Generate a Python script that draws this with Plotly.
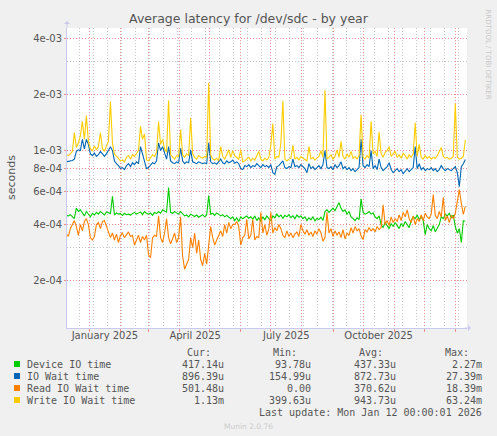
import plotly.graph_objects as go
import pandas as pd

# ---- data (values in microseconds, one sample every 2 days from 2024-12-09) ----
start_date = "2024-12-09"
step_days = 2

device_io = [
    448, 445, 452, 440, 430, 490, 470, 480, 460, 445,
    470, 455, 440, 460, 450, 465, 455, 470, 460, 450,
    468, 462, 458, 568, 450, 462, 455, 458, 448, 460,
    452, 455, 450, 458, 465, 455, 460, 468, 452, 470,
    460, 455, 462, 448, 465, 458, 470, 460, 480, 475,
    466, 632, 465, 460, 470, 462, 455, 470, 455, 445,
    450, 440, 455, 448, 442, 450, 438, 445, 452, 440,
    450, 573, 455, 460, 448, 462, 455, 445, 452, 440,
    448, 438, 430, 440, 420, 435, 415, 440, 430, 438,
    445, 432, 440, 428, 445, 420, 435, 415, 440, 425,
    445, 430, 420, 445, 435, 455, 440, 450, 432, 448,
    440, 452, 435, 445, 430, 450, 438, 445, 430, 440,
    420, 435, 425, 440, 418, 432, 425, 438, 420, 470,
    480, 465, 478, 490, 475, 500, 525, 490, 470, 480,
    455, 470, 440, 430, 420, 435, 425, 550, 465, 455,
    460, 470, 455, 462, 440, 430, 445, 400, 385, 410,
    395, 380, 405, 390, 410, 395, 380, 405, 390, 415,
    400, 385, 420, 440, 430, 450, 425, 440, 420, 353,
    400, 380, 370, 395, 365, 385, 400, 440, 430, 455,
    445, 460, 435, 450, 390, 360, 380, 320, 420, 417,
]

io_wait = [
    870, 875, 880, 885, 900, 990, 1010, 1000, 1150, 1020,
    1150, 1080, 960, 940, 970, 930, 950, 990, 960, 930,
    960, 1010, 1050, 1000, 880, 850, 830, 800, 810, 790,
    830, 850, 820, 860, 840, 870, 850, 1050, 950, 870,
    800, 810, 840, 860, 850, 880, 1100, 1000, 1050, 960,
    900, 1050, 880, 860, 850, 870, 860, 1030, 880, 850,
    870, 860, 1010, 870, 860, 850, 870, 860, 850, 860,
    850, 1100, 870, 850, 860, 845, 870, 900, 860, 850,
    880, 860, 870, 890, 855, 870, 850, 800, 790, 830,
    820, 840, 810, 830, 820, 850, 830, 810, 840, 820,
    830, 810, 840, 760, 745, 820, 830, 850, 880, 810,
    800, 820, 810, 900, 820, 830, 810, 840, 820, 800,
    760, 850, 800, 820, 790, 810, 830, 800, 840, 1000,
    810, 800, 820, 790, 840, 810, 830, 870, 800, 820,
    790, 810, 780, 800, 770, 790, 810, 1150, 830, 810,
    840, 820, 1000, 800, 830, 790, 900, 810, 780, 800,
    820, 860, 790, 760, 780, 800, 770, 790, 750, 780,
    800, 770, 790, 810, 1050, 800, 850, 790, 810, 780,
    800, 790, 810, 780, 800, 770, 790, 830, 800, 780,
    800, 790, 780, 800, 820, 760, 640, 820, 850, 896,
]

read_io_wait = [
    355, 345, 380, 400, 420, 390, 350, 400, 370, 415,
    430, 400, 340, 330, 345, 400, 410, 380, 415, 420,
    390, 370, 340, 360, 330, 355, 320, 350, 360, 340,
    355, 365, 345, 350, 310, 330, 350, 320, 345, 330,
    350, 275, 265, 340, 350, 345, 445, 340, 320, 360,
    430, 340, 315, 335, 360, 320, 340, 440, 270, 230,
    245, 260, 340, 300, 360, 280, 330, 260, 240, 280,
    245, 300, 390, 340, 310, 330, 350, 370, 345, 400,
    360, 410, 380, 400, 400, 415, 390, 310, 340, 350,
    426, 335, 350, 426, 330, 345, 340, 465, 360, 400,
    350, 380, 465, 360, 385, 370, 400, 380, 350, 340,
    370, 345, 360, 340, 355, 365, 345, 400, 370, 355,
    375, 350, 365, 345, 370, 355, 380, 360, 325, 340,
    465, 360, 380, 345, 370, 350, 365, 340, 375, 335,
    360, 350, 385, 360, 390, 370, 380, 348, 332, 375,
    365, 385, 370, 380, 365, 390, 375, 385, 510, 400,
    420, 395, 440, 410, 430, 415, 450, 420, 465, 440,
    480, 430, 410, 445, 400, 430, 415, 450, 420, 460,
    440, 430, 455, 580, 450, 430, 470, 440, 560, 420,
    445, 410, 450, 430, 460, 540, 617, 520, 453, 501,
]

write_io_wait = [
    950, 940, 960, 990, 1250, 1040, 1100, 1200, 1437, 1150,
    1542, 1120, 1020, 1000, 1060, 1010, 1050, 1250, 1030, 990,
    1060, 1122, 1840, 1100, 960, 930, 900, 880, 890, 870,
    920, 940, 900, 950, 930, 970, 1000, 1350, 1150, 1230,
    890, 880, 920, 950, 930, 980, 1437, 1080, 1150, 1020,
    980, 1860, 950, 920, 900, 940, 930, 1297, 950, 920,
    960, 940, 1500, 960, 920, 900, 940, 920, 910, 930,
    920, 2311, 950, 900, 890, 910, 880, 1050, 930, 900,
    960, 1010, 920, 1000, 940, 920, 900, 1012, 870, 880,
    900, 920, 880, 910, 890, 940, 990, 900, 880, 910,
    890, 920, 1068, 1397, 900, 930, 920, 1100, 1855, 900,
    880, 900, 910, 1068, 900, 920, 890, 930, 910, 900,
    880, 1050, 900, 920, 890, 910, 930, 1000, 920, 2110,
    900, 920, 950, 900, 930, 1010, 920, 1122, 930, 900,
    960, 920, 990, 910, 930, 900, 940, 1560, 920, 900,
    940, 910, 1437, 960, 990, 930, 1260, 960, 920, 980,
    1000, 1050, 930, 960, 990, 920, 950, 910, 970, 940,
    900, 950, 920, 960, 1410, 930, 1080, 920, 900, 940,
    910, 930, 900, 920, 910, 940, 1000, 1040, 930, 910,
    920, 900, 910, 930, 1790, 920, 900, 910, 930, 1140,
]

series_names = ["Device IO time", "IO Wait time", "Read IO Wait time", "Write IO Wait time"]
series_colors = ["#00CC00", "#0066B3", "#FF8000", "#FFCC00"]
cur_vals = ["417.14u", "896.39u", "501.48u", "1.13m"]
min_vals = ["93.78u", "154.99u", "0.00", "399.63u"]
avg_vals = ["437.33u", "872.73u", "370.62u", "943.73u"]
max_vals = ["2.27m", "27.39m", "18.39m", "63.24m"]

y_tick_vals = [2e-4, 4e-4, 6e-4, 8e-4, 1e-3, 2e-3, 4e-3]
y_tick_text = ["2e-04", "4e-04", "6e-04", "8e-04", "1e-03", "2e-03", "4e-03"]
y_minor_vals = [3e-4, 5e-4, 7e-4, 3e-3]

x_label_dates = ["2025-01-16 12:00", "2025-04-16 12:00", "2025-07-16 12:00", "2025-10-16 12:00"]
x_label_text = ["January 2025", "April 2025", "July 2025", "October 2025"]
month_starts = pd.date_range("2025-01-01", "2026-01-01", freq="MS")
biweekly = pd.date_range("2024-12-22", "2026-01-12", freq="14D")

x_range = ["2024-12-09 16:00", "2026-01-12 16:00"]
y_range = [-3.955, -2.340]

title_text = "Average latency for /dev/sdc - by year"
last_update = "Last update: Mon Jan 12 00:00:01 2026"
munin_ver = "Munin 2.0.76"
side_text = "RRDTOOL / TOBI OETIKER"

# ---- figure ----
all_series = [device_io, io_wait, read_io_wait, write_io_wait]
n = len(device_io)
assert all(len(s) == n for s in all_series), [len(s) for s in all_series]
dates = pd.date_range(start_date, periods=n, freq=f"{step_days}D")

W, H = 497, 436
L, R, T, B = 67, 30, 28, 108
PW, PH = W - L - R, H - T - B

def px_x(px):
    return (px - L) / PW

def px_y(py):
    return (H - B - py) / PH

fig = go.Figure()
for s, name, col in zip(all_series, series_names, series_colors):
    fig.add_trace(go.Scatter(
        x=dates, y=[v * 1e-6 for v in s], mode="lines", name=name,
        line=dict(color=col, width=1.1), hoverinfo="skip", showlegend=False,
    ))
# invisible helper trace so the label axis exists
fig.add_trace(go.Scatter(
    x=dates[:1], y=[device_io[0] * 1e-6], xaxis="x2", mode="lines",
    line=dict(width=0), hoverinfo="skip", showlegend=False,
))

major_grid = "rgba(235,110,110,0.75)"
minor_grid = "rgba(160,160,160,0.6)"
axis_line = "#CACAEE"
txt = "#555555"
sans = "DejaVu Sans"
mono = "DejaVu Sans Mono"

fig.update_layout(
    width=W, height=H, autosize=False,
    margin=dict(l=L, r=R, t=T, b=B, pad=0),
    paper_bgcolor="#F0F0F0", plot_bgcolor="#FFFFFF",
    title=dict(text=title_text, x=0.5, xref="container", xanchor="center",
               y=1 - 19 / H, yref="container", yanchor="middle",
               font=dict(family=sans, size=12.5, color=txt)),
    xaxis=dict(
        type="date", range=x_range, tickmode="array", tickvals=month_starts,
        showticklabels=False, ticks="outside", ticklen=3, tickcolor=major_grid,
        showgrid=True, gridcolor=major_grid, griddash="1px,2px", gridwidth=1,
        minor=dict(tickmode="array", tickvals=biweekly, showgrid=True,
                   gridcolor=minor_grid, griddash="1px,2px", gridwidth=1, ticks=""),
        showline=True, linecolor=axis_line, linewidth=1, zeroline=False, fixedrange=True,
    ),
    xaxis2=dict(
        type="date", range=x_range, overlaying="x", anchor="y", side="bottom",
        tickmode="array", tickvals=x_label_dates, ticktext=x_label_text,
        showgrid=False, ticks="", showline=False, zeroline=False,
        tickfont=dict(family=sans, size=10, color=txt), fixedrange=True,
    ),
    yaxis=dict(
        type="log", range=y_range, tickmode="array", tickvals=y_tick_vals, ticktext=y_tick_text,
        tickfont=dict(family=sans, size=10, color=txt), ticks="outside", ticklen=2,
        tickcolor=major_grid,
        showgrid=True, gridcolor=major_grid, griddash="1px,2px", gridwidth=1,
        minor=dict(tickmode="array", tickvals=y_minor_vals, showgrid=True,
                   gridcolor=minor_grid, griddash="1px,2px", gridwidth=1, ticks=""),
        showline=True, linecolor=axis_line, linewidth=1, zeroline=False, fixedrange=True,
    ),
)

ann = []
ann.append(dict(text="seconds", x=px_x(11), y=px_y(177), xref="paper", yref="paper",
                textangle=-90, showarrow=False, xanchor="center", yanchor="middle",
                font=dict(family=sans, size=11, color=txt)))
ann.append(dict(text=side_text, x=px_x(487.5), y=px_y(54), xref="paper", yref="paper",
                textangle=90, showarrow=False, xanchor="center", yanchor="middle",
                font=dict(family=sans, size=7, color="#C8C8C8")))
# axis arrows
ann.append(dict(text="", x=px_x(471), y=0, xref="paper", yref="paper", showarrow=True,
                ax=-8, ay=0, arrowhead=1, arrowsize=1, arrowwidth=1, arrowcolor=axis_line))
ann.append(dict(text="", x=0, y=px_y(21), xref="paper", yref="paper", showarrow=True,
                ax=0, ay=8, arrowhead=1, arrowsize=1, arrowwidth=1, arrowcolor=axis_line))

mfont = dict(family=mono, size=10, color=txt)
for label, xr in zip(["Cur:", "Min:", "Avg:", "Max:"], [213, 299, 385, 471]):
    ann.append(dict(text=label, x=px_x(xr), y=px_y(352), xref="paper", yref="paper",
                    showarrow=False, xanchor="right", yanchor="middle", font=mfont))
shapes = []
for k, (name, col) in enumerate(zip(series_names, series_colors)):
    yc = 364 + 12 * k
    ann.append(dict(text=name, x=px_x(25), y=px_y(yc), xref="paper", yref="paper",
                    showarrow=False, xanchor="left", yanchor="middle", font=mfont))
    for vals, xr in zip([cur_vals, min_vals, avg_vals, max_vals], [226, 313, 398, 484]):
        ann.append(dict(text=vals[k], x=px_x(xr), y=px_y(yc), xref="paper", yref="paper",
                        showarrow=False, xanchor="right", yanchor="middle", font=mfont))
    shapes.append(dict(type="rect", xref="paper", yref="paper",
                       x0=px_x(14), x1=px_x(20), y0=px_y(yc - 3), y1=px_y(yc + 3),
                       fillcolor=col, line=dict(width=0)))
ann.append(dict(text=last_update, x=px_x(484), y=px_y(412), xref="paper", yref="paper",
                showarrow=False, xanchor="right", yanchor="middle", font=mfont))
ann.append(dict(text=munin_ver, x=px_x(248), y=px_y(426), xref="paper", yref="paper",
                showarrow=False, xanchor="center", yanchor="middle",
                font=dict(family=sans, size=7.5, color="#CCCCCC")))

fig.update_layout(annotations=ann, shapes=shapes)
fig.write_html("out.html", config={"displayModeBar": False},
               post_script="document.body.style.margin='0';document.body.style.overflow='hidden';")
